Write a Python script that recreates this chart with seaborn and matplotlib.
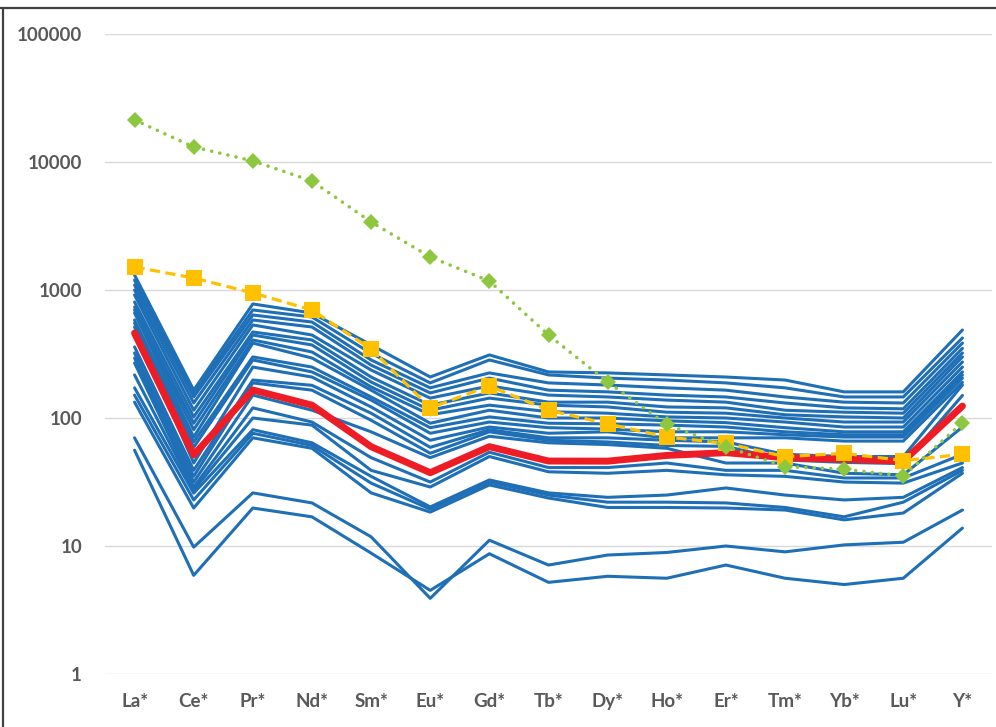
import matplotlib
matplotlib.use("Agg")
import matplotlib.pyplot as plt
from matplotlib.lines import Line2D
from matplotlib.ticker import FixedLocator, NullLocator, FixedFormatter
import numpy as np
import pandas as pd
import seaborn as sns

# Chondrite-normalised REE + Y patterns
elements = ["La*", "Ce*", "Pr*", "Nd*", "Sm*", "Eu*", "Gd*", "Tb*",
            "Dy*", "Ho*", "Er*", "Tm*", "Yb*", "Lu*", "Y*"]

# Individual samples (blue)
s01 = [1309, 165, 778, 661, 372, 209, 311, 229, 225, 217, 209, 198, 160, 160, 487]
s02 = [1197, 155, 698, 615, 320, 188, 284, 217, 205, 198, 188, 172, 146, 146, 422]
s03 = [1094, 146, 638, 562, 284, 172, 225, 188, 181, 172, 165, 146, 133, 131, 385]
s04 = [1000, 131, 583, 514, 259, 157, 205, 165, 160, 151, 146, 131, 120, 118, 350]
s05 = [914, 115, 533, 445, 237, 143, 178, 151, 146, 138, 133, 115, 111, 109, 322]
s06 = [806, 102, 470, 407, 209, 126, 157, 133, 133, 122, 120, 106, 102, 100, 300]
s07 = [736, 91, 445, 372, 191, 115, 143, 126, 122, 111, 109, 100, 93, 93, 274]
s08 = [698, 81, 407, 328, 175, 106, 126, 112, 109, 102, 100, 93, 85, 85, 250]
s09 = [661, 71, 385, 294, 165, 91, 115, 100, 100, 95, 92, 84, 78, 78, 229]
s10 = [583, 65, 300, 250, 146, 84, 102, 91, 90, 88, 85, 78, 74, 74, 217]
s11 = [552, 59, 284, 229, 138, 76, 93, 84, 82, 78, 78, 74, 71, 71, 205]
s12 = [514, 44.5, 250, 209, 122, 67, 85, 76, 78, 70, 70, 70, 66, 66, 190]
s13 = [359, 39, 198, 180, 109, 59, 81, 70, 70, 67, 65, 52, 50, 50, 181]
s14 = [322, 35, 188, 165, 96, 53, 78, 67, 65, 61, 60, 47, 45, 44, 150]
s15 = [294, 31.6, 151, 115, 78, 49, 72, 64, 62, 58, 44.5, 44.5, 37, 36, 85]
s16 = [269, 28.9, 120, 93, 49, 31.6, 54, 41, 41, 44.5, 39, 39, 34, 34, 52]
s17 = [217, 27.4, 100, 88, 39, 28.9, 50, 38, 37, 39, 36, 35, 31.6, 31, 44.5]
s18 = [172, 25.9, 81, 64, 35, 20.2, 32.8, 26, 24, 25, 28.4, 25, 22.9, 24, 41]
s19 = [151, 22.9, 76, 61, 31, 19.4, 31.5, 25, 22, 22, 21.7, 20, 16.9, 22, 39]
s20 = [133, 19.8, 70, 58, 26, 18.4, 30, 23.7, 20, 20, 19.8, 19.1, 16, 18.1, 37]
s21 = [70, 9.8, 26, 21.7, 11.8, 3.9, 11.1, 7.1, 8.5, 8.9, 10, 9.0, 10.2, 10.7, 19.1]
s22 = [56, 5.9, 19.8, 16.9, 8.8, 4.5, 8.7, 5.2, 5.8, 5.6, 7.1, 5.6, 5.0, 5.6, 13.8]

samples = [s01, s02, s03, s04, s05, s06, s07, s08, s09, s10, s11,
           s12, s13, s14, s15, s16, s17, s18, s19, s20, s21, s22]

# Average pattern (red)
mean_pattern = [461, 51.4, 165.5, 126, 59.7, 37.4, 59.7, 46.1, 46, 51, 53.6, 49, 47.6, 46, 124]
# Reference pattern (yellow squares)
ref_square = [1513, 1241, 948, 698, 346, 120, 178, 115, 90, 71, 63.4, 49.9, 53, 46.4, 52]
# Reference pattern (green diamonds)
ref_diamond = [21300, 13100, 10200, 7100, 3400, 1810, 1175, 445, 191, 89, 59.7, 41.7, 39.8, 35.2, 91.9]

yticks = [1, 10, 100, 1000, 10000, 100000]
ytick_labels = ["1", "10", "100", "1000", "10000", "100000"]

BLUE = "#1F6FB6"
RED = "#EE1C25"
YELLOW = "#FFC000"
GREEN = "#8DC63F"
TEXT = "#595959"
GRID = "#D9D9D9"

sns.set_style("white")
plt.rcParams["font.family"] = ["Lato", "DejaVu Sans"]

blue_df = pd.DataFrame(
    [(i, el, v) for i, s in enumerate(samples) for el, v in zip(elements, s)],
    columns=["sample", "element", "value"],
)
mean_df = pd.DataFrame({"element": elements, "value": mean_pattern})
sq_df = pd.DataFrame({"element": elements, "value": ref_square})
dm_df = pd.DataFrame({"element": elements, "value": ref_diamond})

fig = plt.figure(figsize=(9.96, 7.27), dpi=100)
ax = fig.add_axes([105 / 996, 1 - 674 / 727, (992 - 105) / 996, (674 - 34) / 727])

sns.lineplot(data=blue_df, x="element", y="value", units="sample", estimator=None,
             sort=False, color=BLUE, linewidth=2.2, legend=False, ax=ax, zorder=2)
sns.lineplot(data=mean_df, x="element", y="value", sort=False, color=RED,
             linewidth=5.0, legend=False, ax=ax, zorder=3)
sns.lineplot(data=sq_df, x="element", y="value", sort=False, color=YELLOW,
             linewidth=2.3, linestyle=(0, (3.2, 1.7)), marker="s", markersize=11.5,
             markeredgewidth=0, legend=False, ax=ax, zorder=4)
sns.lineplot(data=dm_df, x="element", y="value", sort=False, color=GREEN,
             linewidth=2.6, linestyle=(0, (0.01, 2.3)), dash_capstyle="round",
             marker="D", markersize=8, markeredgewidth=0, legend=False, ax=ax, zorder=5)

ax.set_yscale("log")
ax.set_ylim(1, 100000)
ax.set_xlim(-0.5, len(elements) - 0.5)
ax.yaxis.set_major_locator(FixedLocator(yticks))
ax.yaxis.set_major_formatter(FixedFormatter(ytick_labels))
ax.yaxis.set_minor_locator(NullLocator())
ax.grid(axis="y", which="major", color=GRID, linewidth=1.0, zorder=0)
ax.grid(axis="x", visible=False)
ax.set_axisbelow(True)
for sp in ax.spines.values():
    sp.set_visible(False)
ax.set_xlabel("")
ax.set_ylabel("")
ax.tick_params(axis="y", length=0, pad=16.5, labelsize=13.5, labelcolor=TEXT)
ax.tick_params(axis="x", length=0, pad=14, labelsize=13.5, labelcolor=TEXT)
for lab in ax.get_xticklabels() + ax.get_yticklabels():
    lab.set_fontweight("bold")

# Outer chart frame (top and left edges)
fig.add_artist(Line2D([0, 1], [1 - 7.5 / 727, 1 - 7.5 / 727], color="#404040",
                      linewidth=1.6, transform=fig.transFigure))
fig.add_artist(Line2D([2.5 / 996, 2.5 / 996], [0, 1 - 7.5 / 727], color="#404040",
                      linewidth=1.6, transform=fig.transFigure))

fig.savefig("out.png", dpi=100)
